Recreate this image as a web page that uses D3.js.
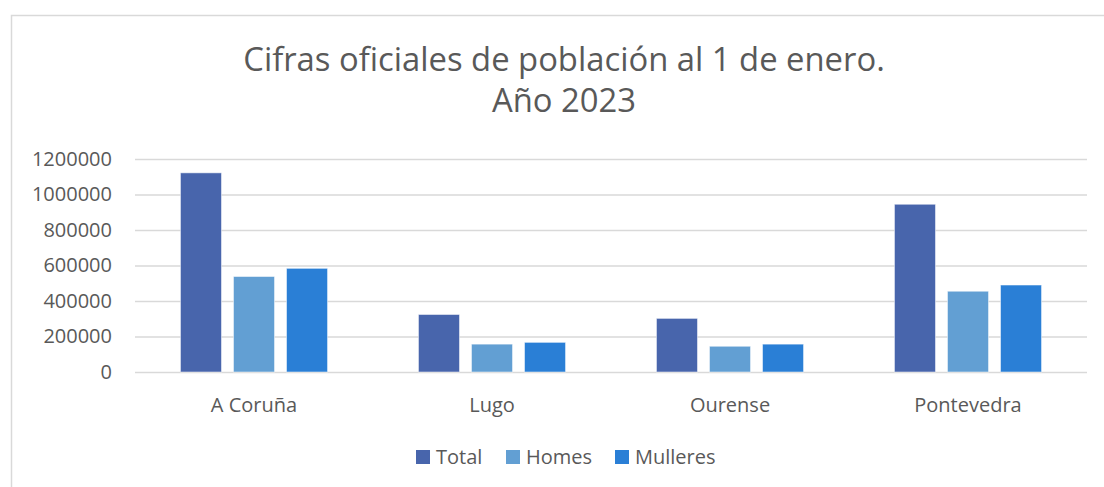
<!DOCTYPE html>
<html>
<head>
<meta charset="utf-8">
<script src="https://cdn.jsdelivr.net/npm/d3@7"></script>
<style>
  html, body { margin: 0; padding: 0; background: #fff; }
  svg { display: block; font-family: "Open Sans", Lato, sans-serif; }
</style>
</head>
<body>
<div id="chart"></div>
<script>
// Data
const provincias = ["A Coruña", "Lugo", "Ourense", "Pontevedra"];
const series = ["Total", "Homes", "Mulleres"];
const total = [1122000, 324000, 302000, 945000];
const homes = [538000, 157000, 145000, 455000];
const mulleres = [584000, 167000, 157000, 490000];
const yTicks = [0, 200000, 400000, 600000, 800000, 1000000, 1200000];
const titleLines = ["Cifras oficiales de población al 1 de enero.", "Año 2023"];

const colors = { Total: "#4865ac", Homes: "#629fd3", Mulleres: "#2a7fd6" };
const textColor = "#595959";
const gridColor = "#d9d9d9";
const font = "'Open Sans', sans-serif";

const width = 1104, height = 487;
const margin = { top: 159, right: 17, bottom: 115, left: 135 };

const data = provincias.map((p, i) => ({
    provincia: p,
    values: { Total: total[i], Homes: homes[i], Mulleres: mulleres[i] }
}));

const svg = d3.select("#chart").append("svg")
    .attr("width", width)
    .attr("height", height);

// chart border
svg.append("rect")
    .attr("x", 11.5)
    .attr("y", 15.5)
    .attr("width", width)
    .attr("height", height)
    .attr("fill", "none")
    .attr("stroke", gridColor)
    .attr("stroke-width", 1.5);

// title
svg.append("g")
    .selectAll("text")
    .data(titleLines)
    .join("text")
    .attr("x", 564)
    .attr("y", (d, i) => 71 + i * 41)
    .attr("text-anchor", "middle")
    .attr("fill", textColor)
    .attr("font-size", 32.8)
    .text(d => d);

const x0 = d3.scaleBand()
    .domain(provincias)
    .range([margin.left, width - margin.right])
    .paddingInner(0.382)
    .paddingOuter(0.191);

const x1 = d3.scaleBand()
    .domain(series)
    .range([0, x0.bandwidth()])
    .paddingInner(0.226);

const y = d3.scaleLinear()
    .domain([0, 1200000])
    .range([height - margin.bottom, margin.top]);

// gridlines + y labels
svg.append("g")
    .attr("transform", `translate(${margin.left},0)`)
    .call(d3.axisLeft(y).tickValues(yTicks).tickFormat(d3.format("d")).tickSize(0).tickPadding(23))
    .call(g => g.select(".domain").remove())
    .call(g => g.selectAll(".tick text")
        .attr("fill", textColor)
        .attr("font-size", 20)
        .attr("font-family", font))
    .call(g => g.selectAll(".tick line")
        .attr("x2", width - margin.right - margin.left)
        .attr("stroke", gridColor)
        .attr("stroke-width", 1.5));

// bars
svg.append("g")
    .selectAll("g")
    .data(data)
    .join("g")
    .attr("transform", d => `translate(${x0(d.provincia)},0)`)
    .selectAll("rect")
    .data(d => series.map(s => ({ key: s, value: d.values[s] })))
    .join("rect")
    .attr("x", d => x1(d.key))
    .attr("y", d => y(d.value))
    .attr("width", x1.bandwidth())
    .attr("height", d => y(0) - y(d.value))
    .attr("fill", d => colors[d.key])
    .attr("stroke", "#ffffff")
    .attr("stroke-opacity", 0.5)
    .attr("stroke-width", 1);

// category labels
svg.append("g")
    .attr("transform", `translate(0,${y(0)})`)
    .call(d3.axisBottom(x0).tickSize(0).tickPadding(26))
    .call(g => g.select(".domain").remove())
    .call(g => g.selectAll(".tick text")
        .attr("fill", textColor)
        .attr("font-size", 20)
        .attr("font-family", font));

// legend
const legendItems = [
    { key: "Total", x: 416 },
    { key: "Homes", x: 506 },
    { key: "Mulleres", x: 615 }
];
const legend = svg.append("g")
    .selectAll("g")
    .data(legendItems)
    .join("g")
    .attr("transform", d => `translate(${d.x},450)`);

legend.append("rect")
    .attr("width", 14)
    .attr("height", 14)
    .attr("fill", d => colors[d.key]);

legend.append("text")
    .attr("x", 20)
    .attr("y", 14)
    .attr("fill", textColor)
    .attr("font-size", 20)
    .text(d => d.key);
</script>
</body>
</html>
